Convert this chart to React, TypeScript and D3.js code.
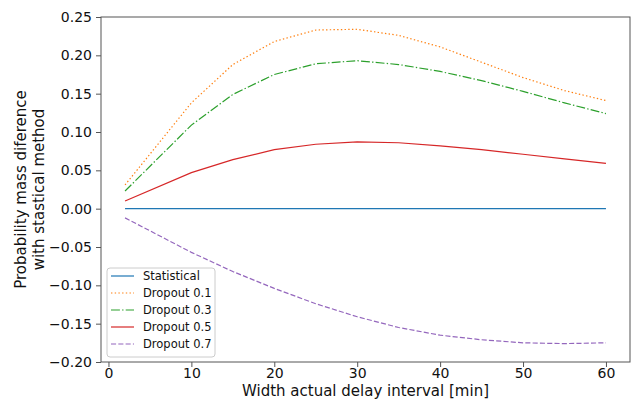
import React, { useEffect, useRef } from 'react';
import * as d3 from 'd3';

// interval widths in minutes
const widths = [2, 10, 15, 20, 25, 30, 35, 40, 45, 50, 55, 60];

const statistical = [0, 0, 0, 0, 0, 0, 0, 0, 0, 0, 0, 0];
const dropout01 = [0.031, 0.138, 0.188, 0.218, 0.233, 0.234, 0.226, 0.211, 0.191, 0.171, 0.154, 0.141];
const dropout03 = [0.023, 0.109, 0.149, 0.175, 0.189, 0.193, 0.188, 0.179, 0.167, 0.153, 0.138, 0.124];
const dropout05 = [0.010, 0.047, 0.064, 0.077, 0.084, 0.087, 0.086, 0.082, 0.077, 0.071, 0.065, 0.059];
const dropout07 = [-0.012, -0.057, -0.082, -0.104, -0.124, -0.141, -0.155, -0.165, -0.171, -0.175, -0.176, -0.175];

const xTicks = [0, 10, 20, 30, 40, 50, 60];
const yTicks = [-0.2, -0.15, -0.1, -0.05, 0, 0.05, 0.1, 0.15, 0.2, 0.25];

const series = [
  { name: 'Statistical', values: statistical, color: '#1f77b4', dash: null },
  { name: 'Dropout 0.1', values: dropout01, color: '#ff7f0e', dash: '1.4,2.3' },
  { name: 'Dropout 0.3', values: dropout03, color: '#2ca02c', dash: '8.9,2.2,1.4,2.2' },
  { name: 'Dropout 0.5', values: dropout05, color: '#d62728', dash: null },
  { name: 'Dropout 0.7', values: dropout07, color: '#9467bd', dash: '5.1,2.2' },
];

const App = () => {
  const svgRef = useRef<SVGSVGElement>(null);

  useEffect(() => {
    const width = 633;
    const height = 401;
    const margin = { top: 17, right: 3, bottom: 39, left: 101 };
    const font = 'DejaVu Sans, sans-serif';

    const svg = d3.select(svgRef.current);
    svg.selectAll('*').remove();
    svg.attr('width', width).attr('height', height);

    const x = d3.scaleLinear()
      .domain([-0.9, 62.9])
      .range([margin.left, width - margin.right]);
    const y = d3.scaleLinear()
      .domain([-0.2, 0.25])
      .range([height - margin.bottom, margin.top]);

    // lines
    const line = d3.line<number>()
      .x((_, i) => x(widths[i]))
      .y(d => y(d));

    series.forEach(s => {
      svg.append('path')
        .datum(s.values)
        .attr('fill', 'none')
        .attr('stroke', s.color)
        .attr('stroke-width', 1.2)
        .attr('stroke-dasharray', s.dash)
        .attr('d', line);
    });

    // frame
    svg.append('rect')
      .attr('x', margin.left)
      .attr('y', margin.top)
      .attr('width', width - margin.left - margin.right)
      .attr('height', height - margin.top - margin.bottom)
      .attr('fill', 'none')
      .attr('stroke', '#555')
      .attr('stroke-width', 1);

    // axes
    const xAxis = svg.append('g')
      .attr('transform', `translate(0, ${height - margin.bottom})`)
      .call(d3.axisBottom(x).tickValues(xTicks).tickSize(5).tickPadding(1).tickFormat(d3.format('d')));
    const yAxis = svg.append('g')
      .attr('transform', `translate(${margin.left}, 0)`)
      .call(d3.axisLeft(y).tickValues(yTicks).tickSize(5).tickPadding(4)
        .tickFormat(d => d3.format('.2f')(d as number).replace('-', '\u2212')));

    [xAxis, yAxis].forEach(g => {
      g.select('.domain').remove();
      g.selectAll('line').attr('stroke', '#555');
      g.selectAll('text')
        .attr('font-family', font)
        .attr('font-size', 14)
        .attr('fill', '#111');
    });

    // axis labels
    svg.append('text')
      .attr('x', (margin.left + width - margin.right) / 2)
      .attr('y', 396)
      .attr('text-anchor', 'middle')
      .attr('font-family', font)
      .attr('font-size', 15)
      .attr('fill', '#111')
      .text('Width actual delay interval [min]');

    const yc = (margin.top + height - margin.bottom) / 2;
    const yl = svg.append('text')
      .attr('transform', `translate(26, ${yc}) rotate(-90)`)
      .attr('text-anchor', 'middle')
      .attr('font-family', font)
      .attr('font-size', 15)
      .attr('fill', '#111');
    yl.append('tspan').attr('x', 0).attr('dy', 0).text('Probability mass diference');
    yl.append('tspan').attr('x', 0).attr('dy', 18).text('with stastical method');

    // legend
    const lg = svg.append('g').attr('transform', 'translate(107, 268)');
    lg.append('rect')
      .attr('width', 108)
      .attr('height', 89)
      .attr('rx', 3)
      .attr('fill', 'white')
      .attr('fill-opacity', 0.8)
      .attr('stroke', '#ccc');
    series.forEach((s, i) => {
      const ly = 8 + i * 17;
      lg.append('line')
        .attr('x1', 4).attr('x2', 27)
        .attr('y1', ly).attr('y2', ly)
        .attr('stroke', s.color)
        .attr('stroke-width', 1.2)
        .attr('stroke-dasharray', s.dash);
      lg.append('text')
        .attr('x', 36)
        .attr('y', ly + 4)
        .attr('font-family', font)
        .attr('font-size', 11.5)
        .attr('fill', '#111')
        .text(s.name);
    });
  }, []);

  return (
    <svg ref={svgRef} style={{ position: 'absolute', left: 0, top: 0 }}></svg>
  );
};

export default App;
